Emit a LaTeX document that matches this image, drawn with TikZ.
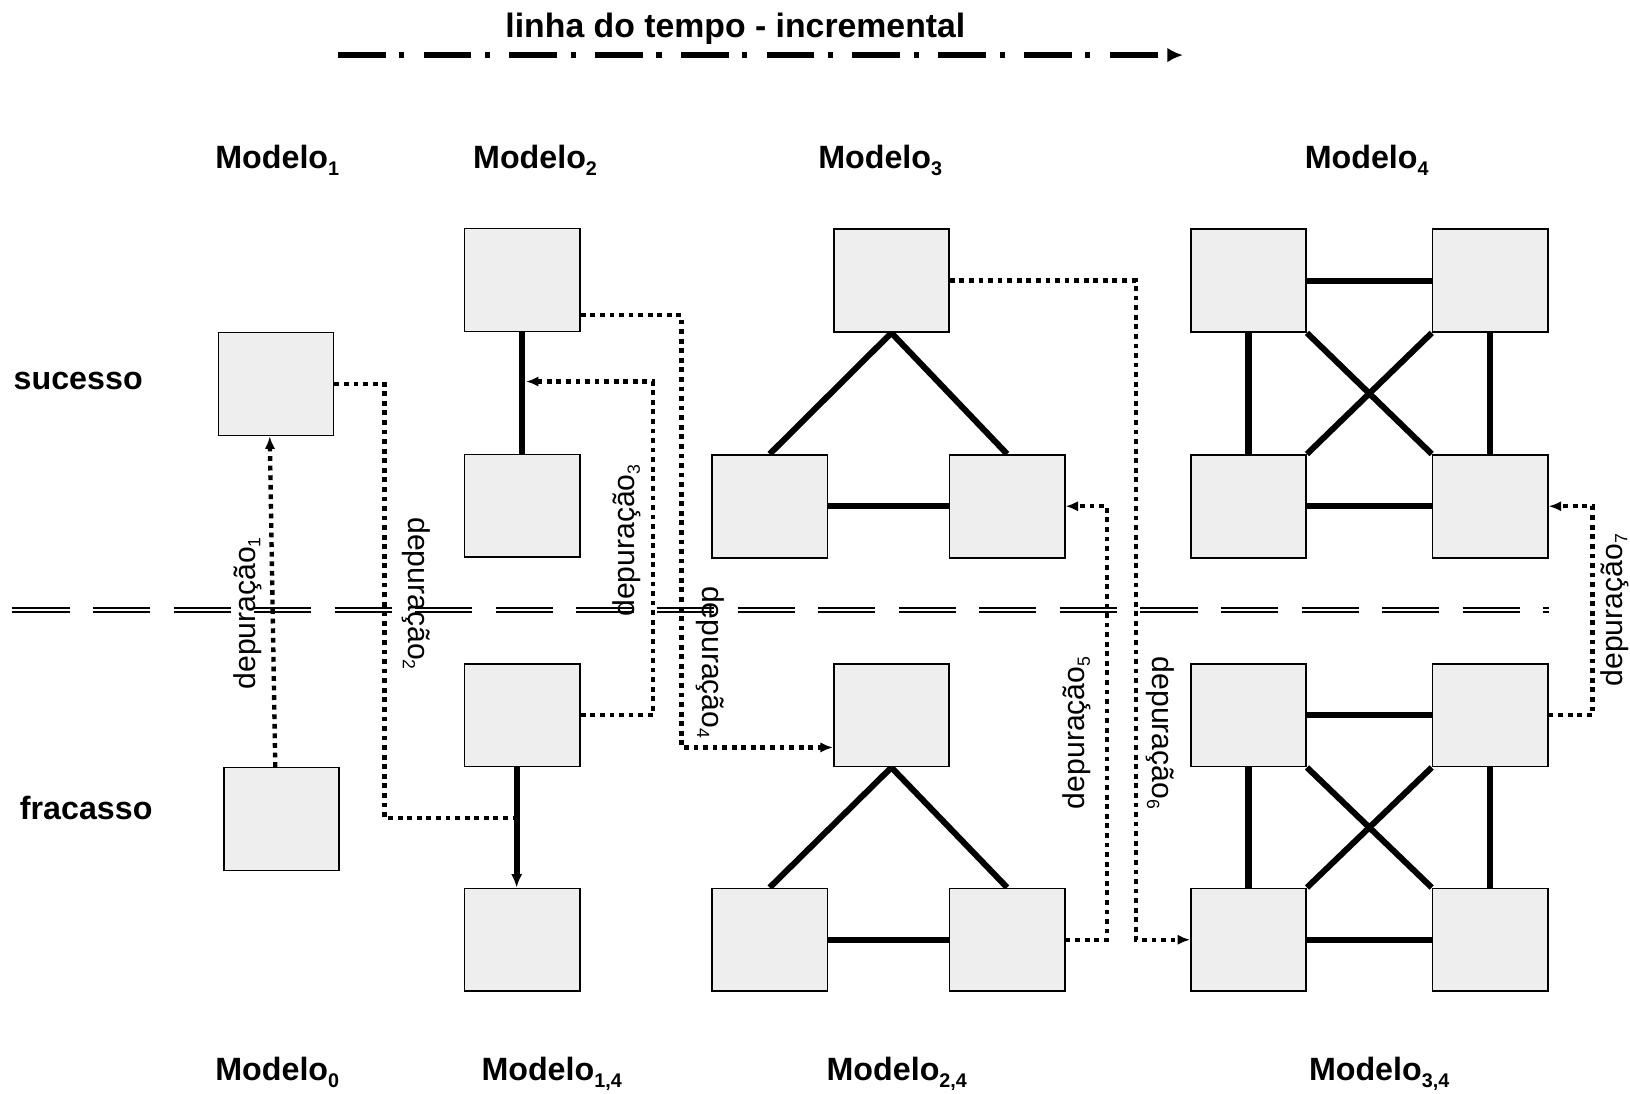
\documentclass[tikz,border=0pt]{standalone}
\usepackage{fontspec}
\setmainfont{Liberation Sans}
\usetikzlibrary{arrows.meta}
\definecolor{boxgray}{RGB}{238,238,238}
% subscripts for the model names and for the debugging labels
\newcommand{\msub}[1]{\raisebox{-7pt}{\fontsize{19}{19}\selectfont #1}}
\newcommand{\dsub}[1]{\raisebox{-5pt}{\fontsize{17}{17}\selectfont #1}}
\pgfdeclarelayer{bg}
\pgfsetlayers{bg,main}

\begin{document}
\begin{tikzpicture}[x=1pt,y=-1pt,
  model/.style={draw=black, line width=1.5pt, fill=boxgray,
    minimum width=111pt, minimum height=99pt, inner sep=0pt},
  link/.style={line width=5.8pt},
  dep/.style={line width=4.2pt, dash pattern=on 4.6pt off 4.6pt},
  tip/.style={-{Latex[length=12pt,width=10pt]}},
  heading/.style={font=\fontsize{31}{31}\selectfont\bfseries, inner sep=0pt, anchor=base west},
  deplabel/.style={font=\fontsize{29}{29}\selectfont, inner sep=0pt},
  sep/.style={line width=2pt, double=white, double distance=1.4pt,
    dash pattern=on 55pt off 22.5pt},
  timeline/.style={line width=5.5pt, dash pattern=on 46pt off 13pt on 5pt off 18.5pt,
    -{Latex[length=15pt,width=14pt]}},
]
\useasboundingbox (0,0) rectangle (1568,1052);

% time axis
\node[font=\fontsize{32.5}{32.5}\selectfont\bfseries, inner sep=0pt, anchor=base west]
  (tltext) at (486,36) {linha do tempo - incremental};
\coordinate (tlA) at (325,53);
\coordinate (tlB) at (1138,53);
\draw[timeline] (tlA) -- (tlB);

% row labels
\node[heading] (suc) at (13,374.5) {sucesso};
\node[heading] (fra) at (19,788) {fracasso};

% column labels
\node[heading] (l1) at (207,162) {Modelo\msub{1}};
\node[heading] (l2) at (455,162) {Modelo\msub{2}};
\node[heading] (l3) at (787,162) {Modelo\msub{3}};
\node[heading] (l4) at (1255,162) {Modelo\msub{4}};
\node[heading] (l0) at (207,1039) {Modelo\msub{0}};
\node[heading] (l14) at (463,1039) {Modelo\msub{1,4}};
\node[heading] (l24) at (795,1039) {Modelo\msub{2,4}};
\node[heading] (l34) at (1259,1039) {Modelo\msub{3,4}};

% models
\node[model] (m1) at (265.5,369.5) {};
\node[model] (m0) at (270.8,788) {};
\node[model] (m2a) at (502.5,269.5) {};
\node[model] (m2b) at (502.5,486.5) {};
\node[model] (m14a) at (502.5,688) {};
\node[model] (m14b) at (502.5,904) {};
\node[model] (m3a) at (857.5,270) {};
\node[model] (m3b) at (740.4,487) {};
\node[model] (m3c) at (968.8,487) {};
\node[model] (m24a) at (857.5,688) {};
\node[model] (m24b) at (740.4,904) {};
\node[model] (m24c) at (968.8,904) {};
\node[model] (m4a) at (1201,270) {};
\node[model] (m4b) at (1433.5,270) {};
\node[model] (m4c) at (1201,487) {};
\node[model] (m4d) at (1433.5,487) {};
\node[model] (m34a) at (1201,688) {};
\node[model] (m34b) at (1433.5,688) {};
\node[model] (m34c) at (1201,904) {};
\node[model] (m34d) at (1433.5,904) {};

\begin{pgfonlayer}{bg}
  % success / failure separator
  \coordinate (sepL) at (12,587);
  \coordinate (sepR) at (1490,587);
  \draw[sep] (sepL) -- (sepR);
  % links inside the models
  \draw[link] (m2a.south) -- (m2b.north);
  \draw[link,-{Latex[length=13pt,width=11pt]}] ([xshift=-5.5pt]m14a.south) -- ([xshift=-5.5pt]m14b.north);
  \draw[link] (m3a.south) -- (m3b.north);
  \draw[link] (m3a.south) -- (m3c.north);
  \draw[link] (m3b.east) -- (m3c.west);
  \draw[link] (m24a.south) -- (m24b.north);
  \draw[link] (m24a.south) -- (m24c.north);
  \draw[link] (m24b.east) -- (m24c.west);
  \foreach \p in {m4,m34} {
    \draw[link] (\p a.east) -- (\p b.west);
    \draw[link] (\p c.east) -- (\p d.west);
    \draw[link] (\p a.south) -- (\p c.north);
    \draw[link] (\p b.south) -- (\p d.north);
    \draw[link] (\p a.south east) -- (\p d.north west);
    \draw[link] (\p b.south west) -- (\p c.north east);
  }
\end{pgfonlayer}

% debugging steps
\coordinate (c2) at (370,787);
\coordinate (c2e) at (495,787);
\coordinate (c3) at (628,367);
\coordinate (c3e) at (506,367);
\coordinate (c4) at (655.5,719);
\coordinate (c5) at (1065,487);
\coordinate (c6) at (1092.5,904);
\coordinate (c7) at (1532,487);

\draw[dep,tip] ([xshift=-6pt]m0.north) -- ([xshift=-6pt]m1.south);
\draw[dep] (m1.east) -| (c2) -- (c2e);
\draw[dep,tip] (m14a.east) -| (c3) -- (c3e);
\draw[dep,tip] ([yshift=-33.5pt]m2a.east) -| (c4) -- (c4 -| m24a.west);
\draw[dep,tip] (m24c.east) -| (c5) -- (m3c.east);
\draw[dep,tip] (m3a.east) -| (c6) -- (m34c.west);
\draw[dep,tip] (m34b.east) -| (c7) -- (m4d.east);

\node[deplabel, rotate=90] (d1) at (238,590) {depuração\dsub{1}};
\node[deplabel, rotate=-90] (d2) at (400,571) {depuração\dsub{2}};
\node[deplabel, rotate=90] (d3) at (603,520) {depuração\dsub{3}};
\node[deplabel, rotate=-90] (d4) at (683,637) {depuração\dsub{4}};
\node[deplabel, rotate=90] (d5) at (1036,705) {depuração\dsub{5}};
\node[deplabel, rotate=-90] (d6) at (1116,705) {depuração\dsub{6}};
\node[deplabel, rotate=90] (d7) at (1553,587) {depuração\dsub{7}};
\end{tikzpicture}
\end{document}
